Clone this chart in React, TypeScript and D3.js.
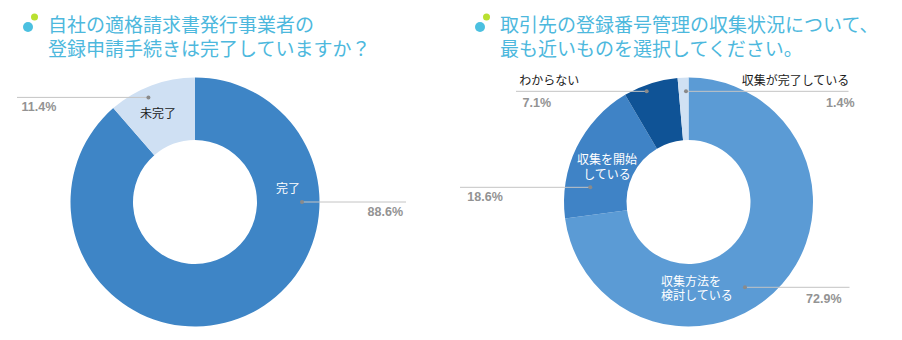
import React from 'react';
import * as d3 from 'd3';

// ---- data ----
const titleA = ['自社の適格請求書発行事業者の', '登録申請手続きは完了していますか？'];
const catsA = ['完了', '未完了'];
const valsA = [88.6, 11.4];

const titleB = ['取引先の登録番号管理の収集状況について、', '最も近いものを選択してください。'];
const catsB = ['収集方法を検討している', '収集を開始している', 'わからない', '収集が完了している'];
const labelLinesB = [['収集方法を', '検討している'], ['収集を開始', 'している'], ['わからない'], ['収集が完了している']];
const valsB = [72.9, 18.6, 7.1, 1.4];

// ---- styles / layout ----
const colorsA = ['#3E85C6', '#CFE0F3'];
const colorsB = ['#5B9BD5', '#3F83C6', '#0F5396', '#D0E1F3'];

type Lay = {
  dotA: number; dotR: number; lineEnd: number;
  pctAnchor: string; pctX: number; pctY: number;
  labAnchor: string; labX: number; labY: number; labColor: string;
};

const layoutA: Lay[] = [
  { dotA: 90, dotR: 107, lineEnd: 211, pctAnchor: 'end', pctX: 208, pctY: 14, labAnchor: 'middle', labX: 93, labY: -9, labColor: '#fff' },
  { dotA: 336, dotR: 114.5, lineEnd: -178, pctAnchor: 'start', pctX: -173.5, pctY: -91, labAnchor: 'middle', labX: -37, labY: -84, labColor: '#1a1a1a' },
];
const layoutB: Lay[] = [
  { dotA: 146.5, dotR: 102.3, lineEnd: 161, pctAnchor: 'end', pctX: 153, pctY: 101, labAnchor: 'start', labX: -27.5, labY: 83.5, labColor: '#fff' },
  { dotA: 278.5, dotR: 99.3, lineEnd: -228.5, pctAnchor: 'start', pctX: -221.2, pctY: -1, labAnchor: 'middle', labX: -81.5, labY: -38, labColor: '#fff' },
  { dotA: 339.3, dotR: 118.3, lineEnd: -172.5, pctAnchor: 'start', pctX: -166, pctY: -95, labAnchor: 'start', labX: -169.2, labY: -117.5, labColor: '#1a1a1a' },
  { dotA: 358.7, dotR: 110.7, lineEnd: 160, pctAnchor: 'end', pctX: 166, pctY: -95, labAnchor: 'start', labX: 53.2, labY: -117.5, labColor: '#1a1a1a' },
];

const JP = '"Noto Sans CJK JP", "Noto Sans", sans-serif';
const NUM = '"Liberation Sans", Arial, sans-serif';

const R_OUT = 124.5;
const R_IN = 62;

function Title({ x, lines }: { x: number; lines: string[] }) {
  return (
    <g>
      <circle cx={x - 20} cy={27} r={5} fill="#4BC0E0" />
      <circle cx={x - 13.5} cy={17} r={3.5} fill="#B9E030" />
      <text x={x} y={31.5} fontFamily={JP} fontSize={19} fill="#4DB8DD">
        {lines.map((l, i) => (
          <tspan key={i} x={x} y={31.5 + i * 24}>{l}</tspan>
        ))}
      </text>
    </g>
  );
}

function Donut({ cx, cy, vals, cats, lines, colors, layout }: {
  cx: number; cy: number; vals: number[]; cats: string[]; lines: string[][]; colors: string[]; layout: Lay[];
}) {
  const pie = d3.pie<number>().sort(null).value(d => d).startAngle(0).endAngle(2 * Math.PI);
  const arcs = pie(vals);
  const arc = d3.arc<d3.PieArcDatum<number>>().innerRadius(R_IN).outerRadius(R_OUT);
  const fmt = d3.format('.1f');
  return (
    <g transform={`translate(${cx},${cy})`}>
      {arcs.map((a, i) => (
        <path key={cats[i]} d={arc(a) || ''} fill={colors[i]} />
      ))}
      {arcs.map((a, i) => {
        const L = layout[i];
        const rad = (L.dotA * Math.PI) / 180;
        const dx = Math.sin(rad) * L.dotR;
        const dy = -Math.cos(rad) * L.dotR;
        return (
          <g key={'l' + i}>
            <line x1={dx} y1={dy} x2={L.lineEnd} y2={dy} stroke="#c4c4c4" strokeWidth={1} />
            <circle cx={dx} cy={dy} r={2} fill="#8a8a8a" />
            <text x={L.pctX} y={L.pctY} textAnchor={L.pctAnchor} fontFamily={NUM} fontWeight="bold" fontSize={12.5} fill="#939393">
              {fmt(a.data) + '%'}
            </text>
            <text x={L.labX} y={L.labY} textAnchor={L.labAnchor} fontFamily={JP} fontSize={12} fill={L.labColor}>
              {lines[i].map((t, j) => (
                <tspan key={j} x={L.labX} y={L.labY + j * 14.5}>{t}</tspan>
              ))}
            </text>
          </g>
        );
      })}
    </g>
  );
}

export default function App() {
  return (
    <svg width={902} height={340} style={{ position: 'absolute', left: 0, top: 0, background: '#fff' }}>
      <rect width={902} height={340} fill="#fff" />
      <Title x={48} lines={titleA} />
      <Title x={500} lines={titleB} />
      <Donut cx={195} cy={202} vals={valsA} cats={catsA} lines={catsA.map(c => [c])} colors={colorsA} layout={layoutA} />
      <Donut cx={688.5} cy={202} vals={valsB} cats={catsB} lines={labelLinesB} colors={colorsB} layout={layoutB} />
    </svg>
  );
}
